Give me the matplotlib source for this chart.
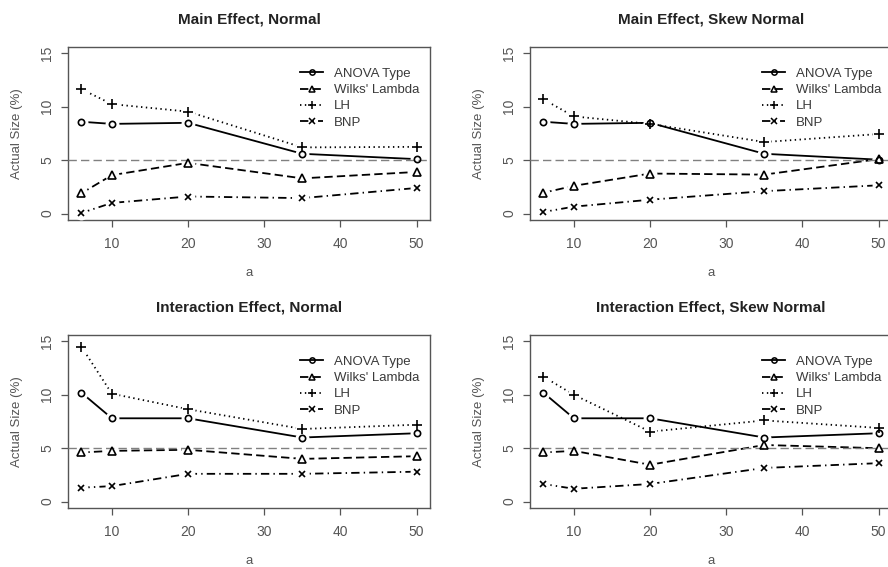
import numpy as np
import matplotlib
matplotlib.use('Agg')
import matplotlib.pyplot as plt

plt.rcParams['font.family'] = ['Liberation Sans', 'DejaVu Sans']
plt.rcParams['lines.scale_dashes'] = False

# number of levels of factor a
a_levels = [6, 10, 20, 35, 50]

titles = ['Main Effect, Normal', 'Main Effect, Skew Normal',
          'Interaction Effect, Normal', 'Interaction Effect, Skew Normal']
test_names = ['ANOVA Type', "Wilks' Lambda", 'LH', 'BNP']

# actual size (%), one list per panel and test
main_normal = {
    'ANOVA Type':    [8.6, 8.4, 8.5, 5.6, 5.1],
    "Wilks' Lambda": [1.9, 3.6, 4.75, 3.3, 3.9],
    'LH':            [11.65, 10.25, 9.55, 6.2, 6.25],
    'BNP':           [0.06, 1.0, 1.6, 1.45, 2.4],
}
main_skew = {
    'ANOVA Type':    [8.6, 8.4, 8.5, 5.6, 5.05],
    "Wilks' Lambda": [1.95, 2.6, 3.75, 3.65, 5.1],
    'LH':            [10.7, 9.1, 8.4, 6.7, 7.45],
    'BNP':           [0.15, 0.65, 1.3, 2.1, 2.65],
}
inter_normal = {
    'ANOVA Type':    [10.2, 7.8, 7.8, 6.0, 6.4],
    "Wilks' Lambda": [4.6, 4.75, 4.85, 4.0, 4.25],
    'LH':            [14.5, 10.1, 8.65, 6.8, 7.2],
    'BNP':           [1.3, 1.45, 2.6, 2.6, 2.8],
}
inter_skew = {
    'ANOVA Type':    [10.2, 7.8, 7.8, 6.0, 6.4],
    "Wilks' Lambda": [4.6, 4.75, 3.45, 5.3, 5.0],
    'LH':            [11.7, 10.0, 6.55, 7.6, 6.9],
    'BNP':           [1.65, 1.2, 1.65, 3.15, 3.6],
}
panels = [main_normal, main_skew, inter_normal, inter_skew]

# R-like line types and plotting symbols
styles = {
    'ANOVA Type':    dict(ls='-', marker='o', ms=4.5),
    "Wilks' Lambda": dict(ls=(0, (6, 3)), marker='^', ms=5.5),
    'LH':            dict(ls=(0, (1, 2.5)), marker='+', ms=7),
    'BNP':           dict(ls=(0, (6, 3, 1, 3)), marker='x', ms=5),
}
grey = '#555555'

W, H = 888, 567
fig = plt.figure(figsize=(W / 100, H / 100), dpi=100)

# axes boxes in pixels: left, top (right column runs past the edge, as in the source)
boxes = [(68, 47), (530, 47), (68, 335), (530, 335)]
bw, bh = 362, 173

for k, data in enumerate(panels):
    left, top = boxes[k]
    ax = fig.add_axes([left / W, 1 - (top + bh) / H, bw / W, bh / H])

    for name in test_names:
        st = styles[name]
        y = data[name]
        ax.plot(a_levels, y, color='black', lw=1.3, ls=st['ls'], zorder=2)
        # white disc under each point gives the gap of R's type="b"
        ax.plot(a_levels, y, ls='none', marker='o', ms=10, mfc='white',
                mec='none', zorder=3)
        ax.plot(a_levels, y, ls='none', marker=st['marker'], ms=st['ms'],
                mfc='none', mec='black', mew=1.2, zorder=4)

    ax.axhline(5, color='#808080', lw=1, ls=(0, (6, 3)), zorder=3.5)

    # legend handles
    handles = []
    for name in test_names:
        st = styles[name]
        h, = ax.plot([], [], color='black', lw=1.3, ls=st['ls'],
                     marker=st['marker'], ms=st['ms'] * 0.85, mfc='none',
                     mec='black', mew=1.1)
        handles.append(h)
    leg = ax.legend(handles, test_names, loc='upper left',
                    bbox_to_anchor=(0.64, 0.88), frameon=False,
                    borderpad=0, borderaxespad=0, handlelength=1.8,
                    handletextpad=0.8, labelspacing=0.3, fontsize=9.5)
    for t in leg.get_texts():
        t.set_color('#3a3a3a')

    ax.set_xlim(4.24, 51.76)
    ax.set_ylim(-0.6, 15.6)
    ax.set_xticks([10, 20, 30, 40, 50])
    ax.set_yticks([0, 5, 10, 15])
    ax.tick_params(direction='out', length=5, width=0.9, colors=grey,
                   labelsize=10)
    ax.tick_params(axis='x', pad=7)
    ax.tick_params(axis='y', pad=5)
    for lab in ax.get_yticklabels():
        lab.set_rotation(90)
        lab.set_va('center')
    for sp in ax.spines.values():
        sp.set_color(grey)
        sp.set_linewidth(1.0)

    ax.set_xlabel('a', color=grey, fontsize=9.5, labelpad=12)
    ax.set_ylabel('Actual Size (%)', color=grey, fontsize=9.5, labelpad=12)
    ax.set_title(titles[k], fontsize=11, fontweight='bold', pad=17,
                 color='#222222')

fig.savefig('out.png', dpi=100)
